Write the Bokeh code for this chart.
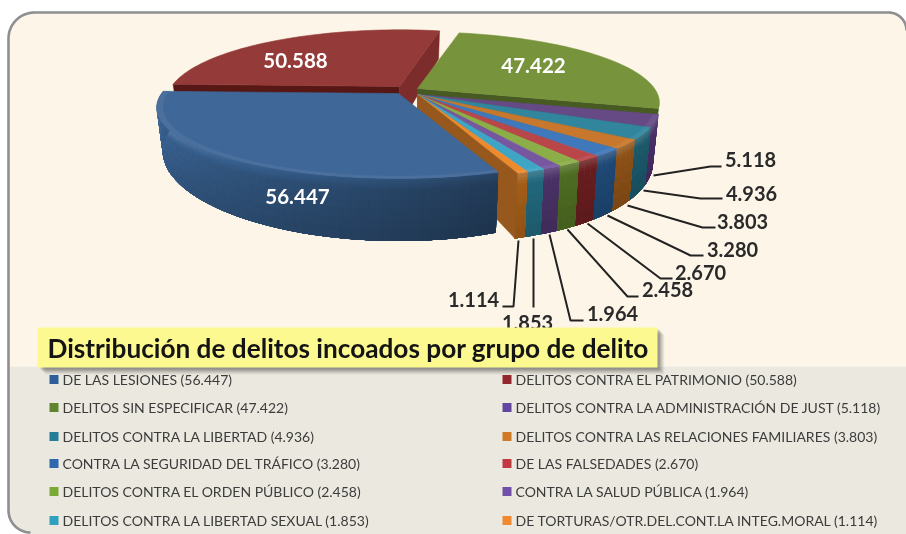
import math
from bokeh.plotting import figure
from bokeh.embed import file_html
from bokeh.resources import INLINE
from bokeh.core.properties import value

# ---- data -----------------------------------------------------------------
categories = ["DE LAS LESIONES", "DELITOS CONTRA EL PATRIMONIO", "DELITOS SIN ESPECIFICAR",
              "DELITOS CONTRA LA ADMINISTRACIÓN DE JUST", "DELITOS CONTRA LA LIBERTAD",
              "DELITOS CONTRA LAS RELACIONES FAMILIARES", "CONTRA LA SEGURIDAD DEL TRÁFICO",
              "DE LAS FALSEDADES", "DELITOS CONTRA EL ORDEN PÚBLICO", "CONTRA LA SALUD PÚBLICA",
              "DELITOS CONTRA LA LIBERTAD SEXUAL", "DE TORTURAS/OTR.DEL.CONT.LA INTEG.MORAL"]
values = [56447, 50588, 47422, 5118, 4936, 3803, 3280, 2670, 2458, 1964, 1853, 1114]
value_labels = ["56.447", "50.588", "47.422", "5.118", "4.936", "3.803", "3.280",
                "2.670", "2.458", "1.964", "1.853", "1.114"]
title = "Distribución de delitos incoados por grupo de delito"

# ---- styles ----------------------------------------------------------------
top_colors = ["#3f6797", "#943a38", "#77933c", "#654a85", "#31859c", "#c8782c",
              "#3f78bb", "#b9474a", "#8cae48", "#7657a0", "#3ea5c4", "#ee8a2e"]
wall_colors = ["#386190", "#7e2d2b", "#4f6228", "#4a2f68", "#1c5a6c", "#8e5217",
               "#1f4a78", "#6a1e20", "#4f6e22", "#4b3268", "#22697e", "#a65f18"]
swatch_colors = ["#2f5f9a", "#93282c", "#5f8530", "#6245a0", "#237f98", "#d07a28",
                 "#3068b0", "#c03a40", "#7ca838", "#7050a8", "#2fa0c0", "#f08a30"]

W, H = 906, 534
p = figure(width=W, height=H, x_range=(0, W), y_range=(H, 0), toolbar_location=None,
           output_backend="svg", min_border=0, background_fill_color="white",
           border_fill_color="white", outline_line_color=None,
           styles={"position": "fixed", "left": "0px", "top": "0px"})
p.xaxis.visible = False
p.yaxis.visible = False
p.grid.visible = False

# ---- frame and panels ------------------------------------------------------
def corner(cx, cy, r, a0, a1, n=14):
    return [(cx + r * math.cos(math.radians(a0 + (a1 - a0) * i / n)),
             cy + r * math.sin(math.radians(a0 + (a1 - a0) * i / n))) for i in range(n + 1)]

outline = (corner(34, 38, 26, 180, 270) + corner(888, 30, 18, 270, 360))
left_side = corner(30, 510, 22, 90, 180)
frame_pts = outline + [(906, 366), (8, 366)]
p.patch([q[0] for q in frame_pts], [q[1] for q in frame_pts], fill_color="#fdf6e8", line_color=None)
panel_pts = [(8, 366), (906, 366), (906, 534), (30, 534)] + left_side[1:]
p.patch([q[0] for q in panel_pts], [q[1] for q in panel_pts], fill_color="#ebe8df", line_color=None)
p.line([q[0] for q in left_side] + [q[0] for q in outline],
       [q[1] for q in left_side] + [q[1] for q in outline],
       line_color="#8f8f92", line_width=2.6)

# ---- projected 3-D pie -----------------------------------------------------
A, B, K, D0 = 237.0, 68.0, 0.2, 40.0     # disc radii, perspective, thickness
START = 70.0                             # first slice starts here, clockwise on screen
CENTERS = [(398, 93), (399, 86), (417, 88)] + [(417, 94)] * 9
XSCALE = [1.0, 0.962, 1.0] + [1.0] * 9
total = sum(values)
spans, acc = [], START
for v in values:
    spans.append((acc, acc + v / total * 360.0))
    acc += v / total * 360.0


def scale(phi, r=1.0):
    return 1.0 / (1.0 - K * r * math.sin(math.radians(phi)))


def proj(i, phi, r=1.0, z=0.0):
    """Disc point (angle phi, radius r, z = 0 top .. 1 bottom) to picture pixels."""
    c = CENTERS[i]
    s = scale(phi, r)
    cs = math.cos(math.radians(phi))
    x = c[0] + A * XSCALE[i] * r * cs * s
    y = c[1] + B * r * math.sin(math.radians(phi)) * s
    d = D0 * s * s * z
    if i >= 3:                # the right-hand flank of the thin slices looks deeper
        d *= 1 + 0.22 * max(cs, 0)
    return (c[0] + (x - c[0]) * (1 - 0.025 * z), y + d)


def mix(color, f):
    rgb = [int(color[i:i + 2], 16) for i in (1, 3, 5)]
    if f <= 1:
        rgb = [c * f for c in rgb]
    else:
        rgb = [c + (255 - c) * (f - 1) for c in rgb]
    return "#%02x%02x%02x" % tuple(int(round(c)) for c in rgb)


def arc(a0, a1, step=2.0):
    n = max(1, int(math.ceil((a1 - a0) / step)))
    return [a0 + (a1 - a0) * i / n for i in range(n + 1)]


LAYERS = [0.0, 0.04, 0.08, 0.12, 0.17, 0.24, 0.36, 0.5, 0.66, 0.82]


def layer_f(z):
    if z < 0.04:
        return 1.15
    if z < 0.08:
        return 1.11
    if z < 0.12:
        return 1.07
    if z < 0.17:
        return 1.02
    return 1.0 - 0.16 * z


def draw_wall(i, a0, a1):
    """Overlapping strips and layers, painted in order, so that no seams show."""
    xs, ys, cols = [], [], []
    angles = arc(a0, a1)
    for a, b in zip(angles[:-1], angles[1:]):
        b2 = min(b + 2.0, a1)
        ang = 0.62 + 0.45 * (min(a, 165) - a0) / (165 - a0) if i == 0 else 1.0
        for z0 in LAYERS:
            q = [proj(i, a, 1, z0), proj(i, b2, 1, z0), proj(i, b2, 1, 1), proj(i, a, 1, 1)]
            xs.append([t[0] for t in q])
            ys.append([t[1] for t in q])
            cols.append(mix(wall_colors[i], layer_f(z0) * ang))
    p.patches(xs, ys, fill_color=cols, line_color=None)


def draw_top(i, a0, a1):
    c = CENTERS[i]
    pts = [c] + [proj(i, a) for a in arc(a0, a1)]
    p.patch([t[0] for t in pts], [t[1] for t in pts], fill_color=top_colors[i],
            line_color=top_colors[i], line_width=0.6)
    if i >= 3 or i == 0:      # soft rim on the visible front edge
        pts = [proj(i, a, 0.975) for a in arc(a0, a1)] + [proj(i, a) for a in arc(a0, a1)[::-1]]
        p.patch([t[0] for t in pts], [t[1] for t in pts], fill_color=mix(top_colors[i], 1.06),
                line_color=None)


def cut_face(i, phi, color):
    c = CENTERS[i]
    q = [c, proj(i, phi), proj(i, phi, 1, 1), (c[0], c[1] + D0)]
    p.patch([t[0] for t in q], [t[1] for t in q], fill_color=color, line_color=color, line_width=0.5)


# painter's order: back slices, the thin slices from back to front, blue last
red0, red1 = spans[1]
cut_face(1, red0, "#561715")
cut_face(1, red1, "#7c2c2a")
draw_top(1, red0, red1)

gr0, gr1 = spans[2]
cut_face(2, gr1 % 360, "#465a22")
draw_top(2, gr0, gr1)

# the thin slices
for i in range(3, 12):
    a0, a1 = spans[i]
    draw_wall(i, a0 - 360, a1 - 360)
for i in range(3, 12):
    a0, a1 = spans[i]
    draw_top(i, a0 - 360, a1 - 360)
cut_face(11, spans[0][0], "#96581c")

draw_wall(0, spans[0][0], spans[0][1])
draw_top(0, spans[0][0], spans[0][1])

# ---- value labels on the three large slices --------------------------------
inner_x = [297, 295, 533]
inner_y = [196, 60, 65]
p.text(inner_x, inner_y, text=value_labels[:3], text_color="white", text_font=value("Lato"),
       text_font_style="bold", text_font_size="20.5px", text_align="center", text_baseline="middle")

# ---- leader lines and outer labels -----------------------------------------
leaders = [
    [(653, 175), (710, 166), (721, 166)],
    [(643, 190), (700, 198), (722, 198)],
    [(627, 205), (702, 227), (715, 227)],
    [(607, 215), (690, 255), (703, 255)],
    [(587, 223), (660, 278), (672, 278)],
    [(567, 229), (627, 296), (638, 296)],
    [(549, 234), (570, 320), (583, 320)],
    [(533, 238), (533, 307)],
    [(518, 240), (513, 306), (502, 306)],
]
p.multi_line([[q[0] for q in l] for l in leaders], [[q[1] for q in l] for l in leaders],
             line_color="#222222", line_width=2)
outer_x = [750, 751, 742, 732, 700, 667, 612, 527, 473]
outer_y = [159, 193, 221, 249, 272, 289, 313, 322, 299]
p.text(outer_x, outer_y, text=value_labels[3:], text_color="#2a2a2a", text_font=value("Lato"),
       text_font_style="bold", text_font_size="20px", text_align="center", text_baseline="middle")

# ---- title box with soft shadow --------------------------------------------
for off, alpha in [(7, 0.06), (6, 0.08), (5, 0.1), (4, 0.12), (3, 0.14), (2, 0.16)]:
    p.quad(left=[38 + off], right=[657 + off], top=[327 + off], bottom=[367 + off],
           fill_color="#404040", fill_alpha=alpha, line_color=None)
p.quad(left=[37], right=[657], top=[327], bottom=[367], fill_color="#fbf98f", line_color=None)
p.text([47], [347], text=[title], text_color="#141414", text_font=value("Lato"),
       text_font_style="bold", text_font_size="26.2px", text_align="left", text_baseline="middle")

# ---- legend ----------------------------------------------------------------
rows = [379, 407, 436, 463, 491, 520]
lx, ly, lt, sc = [], [], [], []
for i, (cat, lab) in enumerate(zip(categories, value_labels)):
    lx.append(62 if i % 2 == 0 else 515)
    ly.append(rows[i // 2])
    lt.append(f"{cat} ({lab})")
    sc.append(swatch_colors[i])
p.quad(left=[x - 13 for x in lx], right=[x - 4 for x in lx],
       top=[y - 4.5 for y in ly], bottom=[y + 4.5 for y in ly], fill_color=sc, line_color=None)
p.text(lx, ly, text=lt, text_color="#3c3c3c", text_font=value("Lato"), text_font_size="14px",
       text_align="left", text_baseline="middle")

open("out.html", "w").write(file_html(p, INLINE))
